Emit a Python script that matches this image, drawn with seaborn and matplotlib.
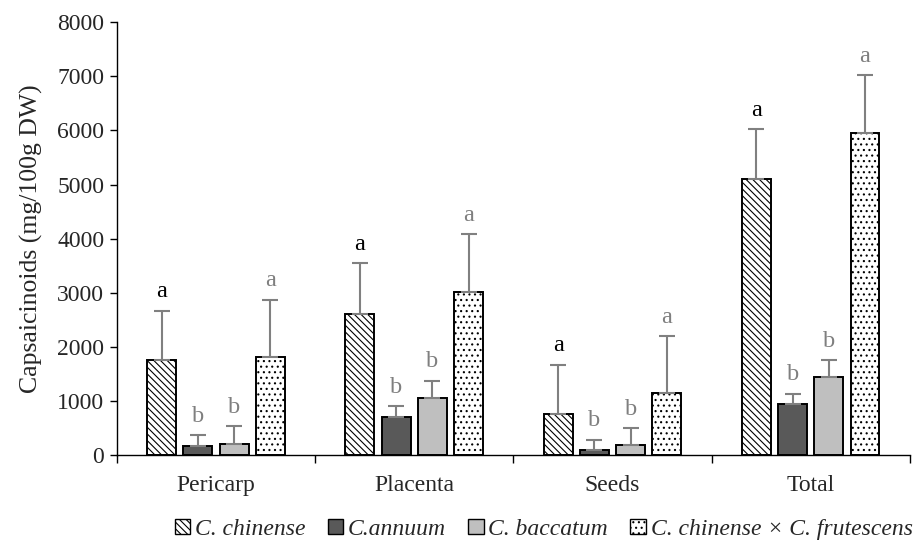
import numpy as np
import pandas as pd
import matplotlib
matplotlib.use("Agg")
import matplotlib.pyplot as plt
import seaborn as sns
from matplotlib.patches import Patch
from matplotlib.ticker import FixedLocator

# Capsaicinoid content by fruit part and genotype
parts = ["Pericarp", "Placenta", "Seeds", "Total"]
species = ["C. chinense", "C.annuum", "C. baccatum", "C. chinense × C. frutescens"]

chinense = [1750, 2610, 770, 5100]
annuum = [165, 710, 90, 940]
baccatum = [215, 1065, 180, 1445]
hybrid = [1815, 3020, 1145, 5960]

chinense_sd = [920, 935, 905, 925]
annuum_sd = [205, 200, 200, 200]
baccatum_sd = [320, 310, 315, 310]
hybrid_sd = [1060, 1060, 1055, 1065]

chinense_lbl = ["a", "a", "a", "a"]
annuum_lbl = ["b", "b", "b", "b"]
baccatum_lbl = ["b", "b", "b", "b"]
hybrid_lbl = ["a", "a", "a", "a"]

means = [chinense, annuum, baccatum, hybrid]
sds = [chinense_sd, annuum_sd, baccatum_sd, hybrid_sd]
lbls = [chinense_lbl, annuum_lbl, baccatum_lbl, hybrid_lbl]

rows = []
for sp, m, s, l in zip(species, means, sds, lbls):
    for p, v, e, t in zip(parts, m, s, l):
        rows.append({"part": p, "species": sp, "value": v, "sd": e, "letter": t})
df = pd.DataFrame(rows)

sns.set_theme(style="white")
plt.rcParams["font.family"] = ["Liberation Serif", "DejaVu Serif"]
plt.rcParams["hatch.linewidth"] = 0.8
plt.rcParams["hatch.color"] = "black"

fills = ["white", "#595959", "#bfbfbf", "white"]
hatches = ["\\\\\\\\\\", "", "", "..."]
letter_colors = ["black", "#7f7f7f", "#7f7f7f", "#7f7f7f"]
err_color = "#808080"

fig = plt.figure(figsize=(9.2, 5.4), dpi=100)
ax = fig.add_axes([0.127, 0.157, 0.862, 0.802])

sns.barplot(data=df, x="part", y="value", hue="species", order=parts,
            hue_order=species, palette=fills, width=0.73, gap=0.2,
            errorbar=None, edgecolor="black", linewidth=1.4, legend=False,
            ax=ax)

bar_groups = list(ax.containers)
for i, cont in enumerate(bar_groups):
    sub = df[df["species"] == species[i]].set_index("part").loc[parts]
    for bar, (_, r) in zip(cont, sub.iterrows()):
        bar.set_hatch(hatches[i])
        bar.set_facecolor(fills[i])
        bar.set_edgecolor("black")
        xc = bar.get_x() + bar.get_width() / 2
        top = r["value"] + r["sd"]
        ax.errorbar(xc, r["value"], yerr=[[0], [r["sd"]]], fmt="none",
                    ecolor=err_color, elinewidth=1.5, capsize=5.5,
                    capthick=1.5, zorder=1)
        ax.annotate(r["letter"], (xc, top), xytext=(0, 6),
                    textcoords="offset points", ha="center", va="bottom",
                    fontsize=17.5, color=letter_colors[i])

ax.set_xlim(-0.5, 3.5)
ax.set_ylim(0, 8000)
ax.set_yticks(np.arange(0, 8001, 1000))
ax.set_xlabel("")
ax.set_ylabel("Capsaicinoids (mg/100g DW)", fontsize=18.5, labelpad=10)
ax.tick_params(axis="y", labelsize=17, length=5, width=1, color="black",
               direction="out", left=True, pad=4)
ax.tick_params(axis="x", which="major", labelsize=17, length=0, pad=14)
ax.xaxis.set_minor_locator(FixedLocator([-0.5, 0.5, 1.5, 2.5, 3.5]))
ax.tick_params(axis="x", which="minor", length=6, width=1, color="black",
               direction="out", bottom=True)
for side in ["top", "right"]:
    ax.spines[side].set_visible(False)
for side in ["left", "bottom"]:
    ax.spines[side].set_color("black")
    ax.spines[side].set_linewidth(1.0)

handles = [Patch(facecolor=fills[i], edgecolor="black", hatch=hatches[i],
                 linewidth=1.0) for i in range(4)]
fig.legend(handles, species, loc="center", bbox_to_anchor=(0.591, 0.020),
           ncol=4, frameon=False, handlelength=0.65, handleheight=0.65,
           handletextpad=0.2, columnspacing=0.95,
           prop={"style": "italic", "size": 17})

fig.savefig("out.png", dpi=100, facecolor="white")
